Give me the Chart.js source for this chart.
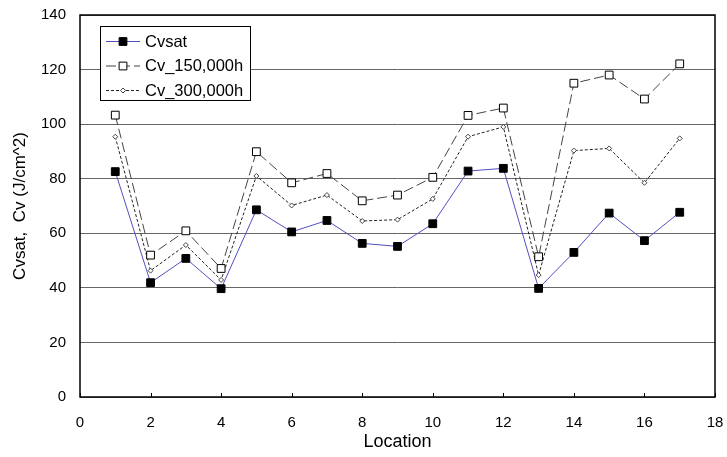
<!DOCTYPE html>
<html lang="en">
<head>
  <meta charset="UTF-8">
  <title>Cvsat / Cv by location</title>
  <style>
    html, body {
      margin: 0;
      padding: 0;
      background: #ffffff;
    }
    #wrap {
      width: 727px;
      height: 457px;
    }
  </style>
</head>
<body>
  <div id="wrap"><canvas id="chart" width="727" height="457"></canvas></div>

  <script src="https://cdn.jsdelivr.net/npm/chart.js"></script>
  <script>
    const locations = [1, 2, 3, 4, 5, 6, 7, 8, 9, 10, 11, 12, 13, 14, 15, 16, 17];
    const cvsat   = [82.6, 41.9, 50.8, 39.7, 68.6, 60.5, 64.7, 56.3, 55.2, 63.5, 82.8, 83.8, 39.8, 53.0, 67.4, 57.3, 67.7];
    const cv150k  = [103.3, 52.0, 60.9, 47.1, 89.9, 78.5, 81.9, 71.9, 74.0, 80.5, 103.2, 105.9, 51.4, 115.0, 118.0, 109.2, 122.1];
    const cv300k  = [95.4, 46.3, 55.7, 42.9, 81.0, 70.2, 74.0, 64.5, 65.0, 72.6, 95.4, 99.0, 44.7, 90.3, 91.1, 78.5, 94.8];
    const seriesNames = ['Cvsat', 'Cv_150,000h', 'Cv_300,000h'];
    const xTicks = [0, 2, 4, 6, 8, 10, 12, 14, 16, 18];
    const yTicks = [0, 20, 40, 60, 80, 100, 120, 140];

    const FONT = '"Liberation Sans", Arial, sans-serif';

    const toPoints = vals => vals.map((v, i) => ({ x: locations[i], y: v }));

    // plot frame, inward ticks on the bottom axis, and the boxed legend
    const framePlugin = {
      id: 'frame',
      afterDraw(chart) {
        const ctx = chart.ctx;
        const a = chart.chartArea;
        const xs = chart.scales.x;
        ctx.save();
        ctx.strokeStyle = '#000';
        ctx.lineWidth = 1.5;
        ctx.strokeRect(a.left, a.top, a.right - a.left, a.bottom - a.top);

        ctx.lineWidth = 1;
        xTicks.forEach(t => {
          const px = Math.round(xs.getPixelForValue(t)) + 0.5;
          ctx.beginPath();
          ctx.moveTo(px, a.bottom);
          ctx.lineTo(px, a.bottom - 4);
          ctx.stroke();
        });

        // legend box
        const lx = 100, ly = 26, lw = 150, lh = 74;
        ctx.fillStyle = '#fff';
        ctx.fillRect(lx, ly, lw, lh);
        ctx.strokeStyle = '#000';
        ctx.lineWidth = 1;
        ctx.strokeRect(lx + 0.5, ly + 0.5, lw, lh);

        ctx.font = '16.5px ' + FONT;
        ctx.textBaseline = 'middle';
        chart.data.datasets.forEach((ds, i) => {
          const y = ly + 15 + i * 24.5;
          ctx.save();
          ctx.strokeStyle = ds.borderColor;
          ctx.lineWidth = ds.borderWidth;
          ctx.setLineDash(ds.borderDash || []);
          ctx.beginPath();
          ctx.moveTo(lx + 6, y + 0.5);
          ctx.lineTo(lx + 40, y + 0.5);
          ctx.stroke();
          ctx.restore();
          ctx.fillStyle = ds.pointBackgroundColor;
          ctx.strokeStyle = ds.pointBorderColor;
          ctx.lineWidth = ds.pointBorderWidth;
          Chart.helpers.drawPoint(ctx, {
            pointStyle: ds.pointStyle,
            radius: ds.pointRadius,
            borderWidth: ds.pointBorderWidth
          }, lx + 23, y + 0.5);
          ctx.fillStyle = '#000';
          ctx.textAlign = 'left';
          ctx.fillText(ds.label, lx + 45, y + 1);
        });
        ctx.restore();
      }
    };

    new Chart(document.getElementById('chart'), {
      type: 'line',
      data: {
        datasets: [
          {
            label: seriesNames[0],
            data: toPoints(cvsat),
            borderColor: '#5050c0',
            borderWidth: 1,
            pointStyle: 'rect',
            pointRadius: 5.5,
            pointBackgroundColor: '#000',
            pointBorderColor: '#000',
            pointBorderWidth: 1,
            tension: 0
          },
          {
            label: seriesNames[1],
            data: toPoints(cv150k),
            borderColor: '#444',
            borderWidth: 1,
            borderDash: [10, 4],
            pointStyle: 'rect',
            pointRadius: 5.5,
            pointBackgroundColor: '#fff',
            pointBorderColor: '#000',
            pointBorderWidth: 1,
            tension: 0
          },
          {
            label: seriesNames[2],
            data: toPoints(cv300k),
            borderColor: '#222',
            borderWidth: 1,
            borderDash: [3, 2],
            pointStyle: 'rectRot',
            pointRadius: 2.5,
            pointBackgroundColor: '#fff',
            pointBorderColor: '#444',
            pointBorderWidth: 1,
            tension: 0
          }
        ]
      },
      options: {
        responsive: false,
        animation: false,
        layout: { padding: { top: 15, right: 12, left: 0, bottom: 0 } },
        plugins: {
          legend: { display: false },
          tooltip: { enabled: false }
        },
        scales: {
          x: {
            type: 'linear',
            min: 0,
            max: 18,
            afterBuildTicks: s => { s.ticks = xTicks.map(v => ({ value: v })); },
            grid: { display: false },
            border: { display: false },
            ticks: { color: '#000', font: { family: FONT, size: 15 }, padding: 9, maxRotation: 0 },
            title: {
              display: true,
              text: 'Location',
              color: '#000',
              font: { family: FONT, size: 18 },
              padding: { top: 3 }
            },
            afterFit: s => {
              s.height = 60;
              s.paddingLeft = 0;
              s.paddingRight = 0;
            }
          },
          y: {
            min: 0,
            max: 140,
            afterBuildTicks: s => { s.ticks = yTicks.map(v => ({ value: v })); },
            grid: { color: '#666', lineWidth: 1, drawTicks: false },
            border: { display: false },
            ticks: { color: '#000', font: { family: FONT, size: 15 }, padding: 14 },
            title: {
              display: true,
              text: 'Cvsat,  Cv (J/cm^2)',
              color: '#000',
              font: { family: FONT, size: 17 },
              padding: { top: 10, bottom: 0 }
            },
            afterFit: s => {
              s.width = 80;
              s.paddingTop = 0;
              s.paddingBottom = 0;
            }
          }
        }
      },
      plugins: [framePlugin]
    });
  </script>
</body>
</html>
